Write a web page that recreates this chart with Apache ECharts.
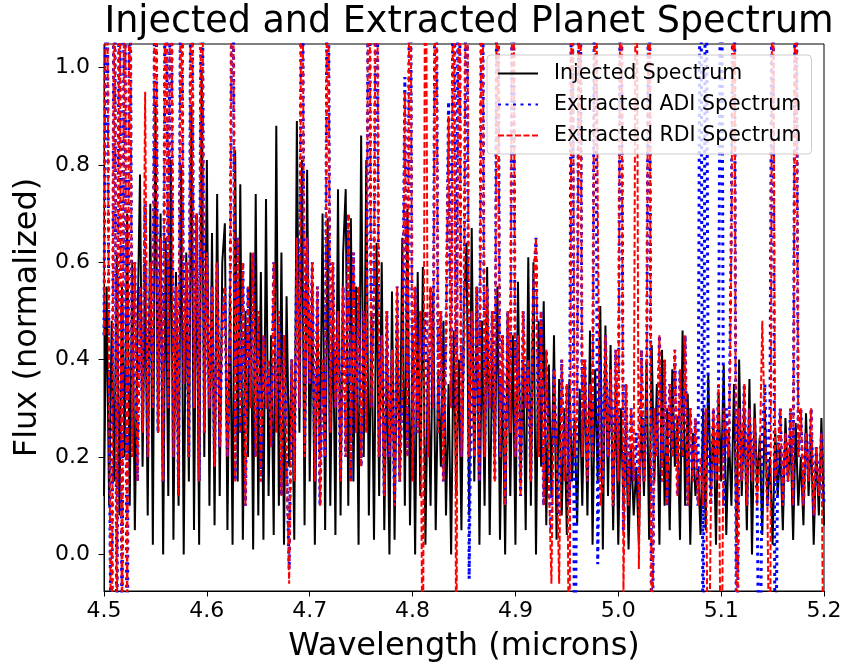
<!DOCTYPE html>
<html>
<head>
<meta charset="utf-8">
<script src="https://cdn.jsdelivr.net/npm/echarts@6/dist/echarts.min.js"></script>
<style>
  html, body { margin: 0; padding: 0; background: #fff; }
  #chart { width: 846px; height: 670px; }
</style>
</head>
<body>
<div id="chart"></div>
<script>
// wavelength grid of the spectrum (microns)
const WL_START = 4.5;
const WL_STEP = 0.0025;

// injected planet spectrum (normalized flux), one value per grid point
const injected = [
  0.12, 0.55, 0.10, 0.48, 0.15, 0.62, 0.08, 0.55, 0.20, 0.70,
  0.10, 0.60, 0.05, 0.45, 0.78, 0.18, 0.60, 0.08, 0.72, 0.02,
  0.93, 0.25, 0.70, 0.00, 0.65, 0.12, 0.81, 0.03, 0.58, 0.10,
  0.80, 0.00, 0.62, 0.15, 0.92, 0.05, 0.70, 0.02, 0.99, 0.20,
  0.81, 0.10, 0.66, 0.06, 0.74, 0.12, 0.60,
  0.68, 0.05, 0.55, 0.02, 0.83, 0.15, 0.76, 0.03, 0.50, 0.20,
  0.62, 0.01, 0.74, 0.08, 0.58, 0.03, 0.73, 0.12, 0.45, 0.04,
  0.88, 0.10, 0.62, 0.02, 0.53, 0.18, 0.40, 0.03, 0.89, 0.25,
  0.81, 0.06, 0.79, 0.15, 0.56, 0.02, 0.48, 0.20, 0.70, 0.05,
  0.69, 0.10, 0.52, 0.04, 0.75, 0.08, 0.62,
  0.75, 0.10, 0.69, 0.15, 0.55, 0.02, 0.86, 0.20, 0.81, 0.08,
  0.50, 0.03, 0.64, 0.12, 0.60, 0.05, 0.42, 0.00, 0.54, 0.03,
  0.48, 0.15, 0.65, 0.10, 0.71, 0.06, 0.45, 0.00, 0.58, 0.12,
  0.59, 0.02, 0.40, 0.10, 0.54, 0.05, 0.38, 0.18, 0.48, 0.08,
  0.35, 0.00, 0.46, 0.12, 0.40, 0.05, 0.52,
  0.64, 0.08, 0.67, 0.15, 0.55, 0.02, 0.48, 0.10, 0.59, 0.04,
  0.42, 0.20, 0.55, 0.03, 0.38, 0.00, 0.50, 0.12, 0.45, 0.02,
  0.56, 0.15, 0.40, 0.05, 0.61, 0.10, 0.60, 0.00, 0.48, 0.18,
  0.52, 0.06, 0.39, 0.12, 0.45, 0.03, 0.36, 0.08, 0.30, 0.04,
  0.36, 0.15, 0.28, 0.06, 0.34, 0.10, 0.39,
  0.08, 0.46, 0.02, 0.38, 0.15, 0.51, 0.01, 0.47, 0.12, 0.43,
  0.05, 0.35, 0.02, 0.30, 0.10, 0.26, 0.01, 0.22, 0.08, 0.18,
  0.02, 0.29, 0.12, 0.40, 0.03, 0.43, 0.15, 0.35, 0.02, 0.42,
  0.10, 0.30, 0.05, 0.38, 0.18, 0.28, 0.03, 0.46, 0.10, 0.33,
  0.02, 0.25, 0.12, 0.18, 0.04, 0.30,
  0.05, 0.37, 0.12, 0.28, 0.02, 0.33, 0.15, 0.39, 0.04, 0.25,
  0.10, 0.35, 0.03, 0.40, 0.12, 0.30, 0.05, 0.36, 0.00, 0.31,
  0.14, 0.24, 0.04, 0.30, 0.10, 0.20, 0.02, 0.26, 0.12, 0.22,
  0.05, 0.28, 0.15, 0.24, 0.03, 0.27, 0.10, 0.20, 0.06, 0.29,
  0.12, 0.25, 0.02, 0.22, 0.08, 0.28, 0.06
];

// extracted ADI spectrum (spikes run off the plot)
const adi = [
  0.45, 1.6, 0.30, -0.4, 1.6, -0.3, 1.5, -0.3, 1.6, -0.45,
  1.5, 0.20, 0.60, 0.15, 0.55, 0.25, 0.72, 0.20, 0.60, 0.30,
  1.6, 0.25, 0.65, 0.15, 1.6, 0.30, 1.6, 0.20, 0.55, 0.12,
  1.6, 0.35, 0.60, 0.20, 1.6, 0.30, 0.70, 0.15, 1.6, 0.25,
  0.62, 0.30, 0.55, 0.18, 0.60, 0.22, 0.48, 0.55, 0.20, 0.45,
  1.6, 0.15, 0.65, 0.25, 0.60, 0.10, 0.55, 0.30, 0.62, 0.20,
  0.50, 0.15, 0.45, 0.30, 0.40, 0.22, 0.60, 0.25, 0.50, 0.12,
  0.45, 0.20, -0.03, 0.40, 0.15, 0.65, 0.30, 1.6, 0.20, 0.65,
  0.35, 0.60, 0.15, 0.55, 0.10, 0.40, 0.20, 1.6, 0.25, 0.60,
  0.30, 0.50, 0.15, 0.55, 0.20, 0.70, 0.15, 0.62, 0.25, 0.55,
  0.18, 0.50, 0.25, 1.6, 0.30, 0.55, 1.6, 0.20, 0.45, 0.12,
  0.50, 0.20, 0.42, 0.10, 0.55, 0.15, 0.35, 0.98, 0.20, 1.6,
  0.15, 0.55, 0.25, 0.50, 0.40, 0.50, 0.20, 0.55, 0.30, 1.6,
  0.25, 0.50, 0.15, 0.45, 0.93, 0.30, 1.6, 0.30, 1.6, 0.20,
  0.45, 1.6, -0.05, 0.50, 0.20, 0.55, 0.15, 1.6, 0.20, 0.55,
  0.30, 0.50, 0.15, 1.6, 0.20, 0.45, 0.10, 0.50, 0.25, 1.6,
  0.20, 0.45, 0.12, 0.50, 0.30, 0.40, 0.15, 0.55, 0.65, 0.20,
  0.50, 0.10, 0.42, 0.15, 0.05, 0.38, 0.20, 0.08, 0.40, 0.15,
  0.35, 0.10, 1.6, -0.4, 0.30, 1.6, 0.20, 0.40, 0.15, 0.35,
  0.20, 1.6, -0.02, 0.40, 0.15, 0.45, 0.20, 0.38, 0.10, 0.42,
  0.15, 1.6, 0.05, 0.35, 0.10, 0.30, 0.15, 0.25, 0.10, 0.42,
  0.15, 0.30, 1.6, -0.4, 0.30, 0.20, 0.45, 0.15, 0.40, 0.10,
  0.35, 0.20, 0.42, 0.12, 0.38, 0.20, 0.45, 0.10, 0.30, 0.15,
  0.28, 0.10, 1.6, -0.4, 1.6, 0.25, 0.10, 0.30, 0.15, 0.35,
  1.6, 0.10, 0.30, 0.20, 0.70, 1.6, -0.4, 0.30, 0.15, 0.35,
  0.10, 0.30, 0.15, 0.28, 0.10, -0.4, 0.25, 0.35, 0.10, 0.30,
  1.6, -0.4, 0.20, 0.30, 0.10, 0.25, 0.15, 0.30, 0.10, 1.6,
  0.20, 0.30, 0.10, 0.25, 0.15, 0.30, 0.08, 0.22, 0.12, 0.25,
  0.10
];

// extracted RDI spectrum
const rdi = [
  0.45, 1.6, 0.30, -0.4, 1.6, -0.3, 1.5, -0.3, 1.6, -0.2,
  1.5, 0.20, 0.60, 0.15, 0.55, 0.25, 0.95, 0.20, 0.60, 0.30,
  1.6, 0.25, 0.65, 0.15, 1.6, 0.30, 1.6, 0.20, 0.55, 0.12,
  1.6, 0.35, 0.60, 0.20, 1.6, 0.30, 0.70, 0.15, 1.6, 0.25,
  0.62, 0.30, 0.55, 0.18, 0.60, 0.22, 0.48, 0.55, 0.20, 0.45,
  1.6, 0.15, 0.65, 0.25, 0.60, 0.10, 0.55, 0.30, 0.62, 0.20,
  0.50, 0.15, 0.45, 0.30, 0.40, 0.22, 0.60, 0.25, 0.50, 0.12,
  0.45, 0.20, -0.06, 0.40, 0.15, 0.65, 0.30, 1.6, 0.20, 0.65,
  0.35, 0.60, 0.15, 0.55, 0.10, 0.40, 0.20, 1.6, 0.25, 0.60,
  0.30, 0.50, 0.15, 0.55, 0.20, 0.70, 0.15, 0.62, 0.25, 0.55,
  0.18, 0.50, 0.25, 1.6, 0.30, 0.55, 1.6, 0.20, 0.45, 0.12,
  0.50, 0.20, 0.42, 0.10, 0.55, 0.15, 0.35, 0.95, 0.20, 1.6,
  0.15, 0.55, 0.25, 0.50, -0.4, 1.6, 0.20, 0.55, 0.30, 1.6,
  0.25, 0.50, 0.15, 0.45, 0.90, 0.30, 1.6, -0.4, 1.6, 0.20,
  0.45, 1.6, 0.20, 0.50, 0.20, 0.55, 0.15, 1.6, 0.20, 0.55,
  0.30, 0.50, 0.15, 1.6, 0.20, 0.45, 0.10, 0.50, 0.25, 1.6,
  0.20, 0.45, 0.12, 0.50, 0.30, 0.40, 0.15, 0.55, 0.65, 0.20,
  0.50, 0.10, 0.42, 0.15, -0.06, 0.38, 0.20, -0.06, 0.40, 0.15,
  0.35, -0.4, 1.6, 0.20, 0.30, 1.6, 0.20, 0.40, 0.15, 0.35,
  0.20, 1.6, 0.72, 0.10, 0.15, 0.45, 0.20, 0.38, 0.10, 0.42,
  0.15, 1.6, -0.08, 0.35, 0.10, 0.30, 0.15, 1.6, -0.03, 0.42,
  0.15, 0.30, 1.6, -0.4, 0.30, 0.20, 0.45, 0.15, 0.40, 0.10,
  0.35, 0.20, 0.42, 0.12, 0.38, 0.20, 0.45, 0.10, 0.30, 0.15,
  0.28, 0.10, 0.20, 0.10, 0.30, -0.4, 0.10, 0.30, 0.15, 0.35,
  -0.4, 0.30, 0.25, 0.20, 0.65, 1.6, -0.4, 0.30, 0.15, 0.35,
  0.10, 0.30, 0.15, 0.28, 0.10, 0.20, 0.48, 0.25, 0.10, -0.4,
  1.6, 0.15, 0.20, 0.30, 0.10, 0.25, 0.15, 0.30, 0.10, 1.6,
  0.20, 0.30, 0.10, 0.25, 0.15, 0.30, 0.08, 0.22, 0.12, 0.25,
  -0.4
];

const yTicks = [0, 0.2, 0.4, 0.6, 0.8, 1.0];

const toPairs = (vals) => vals.map((v, i) => [WL_START + i * WL_STEP, v]);

const chart = echarts.init(document.getElementById('chart'), null, { renderer: 'canvas' });

const font = 'DejaVu Sans';

const option = {
  animation: false,
  backgroundColor: '#ffffff',
  textStyle: { fontFamily: font },
  title: {
    text: 'Injected and Extracted Planet Spectrum',
    left: 464,
    textAlign: 'center',
    top: -1,
    textStyle: { fontFamily: font, fontSize: 36.5, fontWeight: 'normal', color: '#000' }
  },
  grid: {
    left: 104,
    right: 22,
    top: 44,
    bottom: 79,
    show: true,
    borderColor: '#000',
    borderWidth: 1,
    backgroundColor: 'transparent'
  },
  legend: {
    left: 487,
    top: 55,
    orient: 'vertical',
    padding: [8, 10, 8, 10],
    itemGap: 10,
    itemWidth: 40,
    itemHeight: 19,
    backgroundColor: 'rgba(255,255,255,0.8)',
    borderColor: '#cccccc',
    borderWidth: 1,
    borderRadius: 4,
    itemStyle: { opacity: 0 },
    textStyle: { fontFamily: font, fontSize: 20.5, color: '#000', padding: [0, 0, 0, 11] },
    data: ['Injected Spectrum', 'Extracted ADI Spectrum', 'Extracted RDI Spectrum']
  },
  xAxis: {
    type: 'value',
    min: 4.5,
    max: 5.2,
    interval: 0.1,
    name: 'Wavelength (microns)',
    nameLocation: 'middle',
    nameGap: 40,
    nameTextStyle: { fontFamily: font, fontSize: 32, color: '#000' },
    axisLine: { show: true, onZero: false, lineStyle: { color: '#000', width: 1 } },
    axisTick: { show: true, inside: false, length: 5.5, lineStyle: { color: '#000' } },
    axisLabel: {
      margin: 9,
      fontFamily: font,
      fontSize: 22,
      color: '#000',
      formatter: (v) => v.toFixed(1)
    },
    splitLine: { show: false }
  },
  yAxis: {
    type: 'value',
    min: -0.075,
    max: 1.048,
    name: 'Flux (normalized)',
    nameLocation: 'middle',
    nameGap: 50,
    nameTextStyle: { fontFamily: font, fontSize: 32, color: '#000' },
    axisLine: { show: true, onZero: false, lineStyle: { color: '#000', width: 1 } },
    axisTick: { show: true, inside: false, length: 5.5, customValues: yTicks, lineStyle: { color: '#000' } },
    axisLabel: {
      margin: 14,
      fontFamily: font,
      fontSize: 22,
      color: '#000',
      customValues: yTicks,
      formatter: (v) => v.toFixed(1)
    },
    splitLine: { show: false }
  },
  series: [
    {
      name: 'Injected Spectrum',
      type: 'line',
      symbol: 'none',
      clip: true,
      data: toPairs(injected),
      lineStyle: { color: '#000000', width: 2 },
      itemStyle: { color: '#000000' }
    },
    {
      name: 'Extracted ADI Spectrum',
      type: 'line',
      symbol: 'none',
      clip: true,
      data: toPairs(adi),
      lineStyle: { color: '#0000ff', width: 3, type: [3, 4.5] },
      itemStyle: { color: '#0000ff' }
    },
    {
      name: 'Extracted RDI Spectrum',
      type: 'line',
      symbol: 'none',
      clip: true,
      data: toPairs(rdi),
      lineStyle: { color: '#ff0000', width: 2, type: [6, 2.5] },
      itemStyle: { color: '#ff0000' }
    }
  ]
};

chart.setOption(option);
</script>
</body>
</html>
